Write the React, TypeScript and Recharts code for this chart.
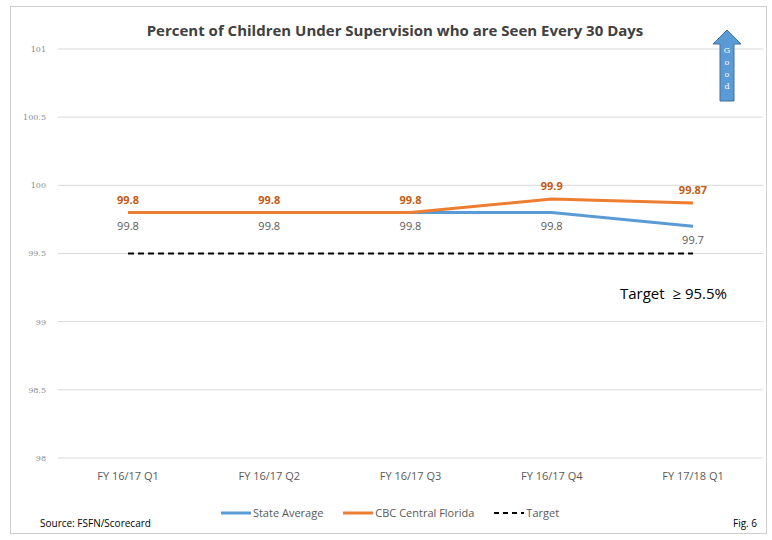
import React from 'react';
import { LineChart, Line, XAxis, YAxis, CartesianGrid, LabelList } from 'recharts';

const categories = ['FY 16/17 Q1', 'FY 16/17 Q2', 'FY 16/17 Q3', 'FY 16/17 Q4', 'FY 17/18 Q1'];
const stateAverage = [99.8, 99.8, 99.8, 99.8, 99.7];
const cbcCentralFlorida = [99.8, 99.8, 99.8, 99.9, 99.87];
const target = [99.5, 99.5, 99.5, 99.5, 99.5];
const yTicks = [98, 98.5, 99, 99.5, 100, 100.5, 101];

const data = categories.map((c, i) => ({
  name: c,
  state: stateAverage[i],
  cbc: cbcCentralFlorida[i],
  target: target[i],
}));

const FONT = "'Open Sans', 'Noto Sans', sans-serif";

const LegendContent = () => (
  <div style={{ display: 'flex', justifyContent: 'center', alignItems: 'center', fontFamily: FONT, fontSize: 11, color: '#595959' }}>
    <svg width={30} height={6} style={{ marginRight: 2 }}><line x1={0} y1={3} x2={30} y2={3} stroke="#5b9bd5" strokeWidth={3} /></svg>
    <span style={{ marginRight: 20 }}>State Average</span>
    <svg width={30} height={6} style={{ marginRight: 2 }}><line x1={0} y1={3} x2={30} y2={3} stroke="#ed7d31" strokeWidth={3} /></svg>
    <span style={{ marginRight: 20 }}>CBC Central Florida</span>
    <svg width={30} height={6} style={{ marginRight: 2 }}><line x1={0} y1={3} x2={30} y2={3} stroke="#000" strokeWidth={2} strokeDasharray="5 4" /></svg>
    <span>Target</span>
  </div>
);

export default function App() {
  return (
    <div style={{ position: 'absolute', left: 0, top: 0, width: 772, height: 540, background: '#fff', fontFamily: FONT }}>
      <div style={{ position: 'absolute', left: 10, top: 6, width: 757, height: 528, border: '1px solid #d0d0d0', boxSizing: 'border-box' }} />
      <div style={{ position: 'absolute', left: 0, width: 772, top: 20, textAlign: 'center', fontSize: 15, fontWeight: 700, color: '#404040', paddingLeft: 18, boxSizing: 'border-box' }}>
        Percent of Children Under Supervision who are Seen Every 30 Days
      </div>
      <LineChart width={772} height={540} data={data} margin={{ top: 49, right: 9, left: 18, bottom: 52 }} style={{ position: 'absolute', left: 0, top: 0 }}>
        <CartesianGrid vertical={false} stroke="#d9d9d9" />
        <XAxis dataKey="name" axisLine={false} tickLine={false} padding={{ left: 70, right: 70 }} tick={{ fill: '#595959', fontSize: 11, fontFamily: FONT }} height={30} tickMargin={8} />
        <YAxis domain={[98, 101]} ticks={yTicks} axisLine={false} tickLine={false} width={40} tick={{ fill: '#8c8c8c', fontSize: 8, fontFamily: 'DejaVu Serif, serif' }} tickMargin={6} />
        <Line dataKey="target" stroke="#000" strokeWidth={2} strokeDasharray="6 4" dot={false} isAnimationActive={false} />
        <Line dataKey="state" stroke="#5b9bd5" strokeWidth={3} dot={false} isAnimationActive={false}>
          <LabelList dataKey="state" position="bottom" offset={10} style={{ fill: '#595959', fontSize: 11, fontFamily: FONT }} />
        </Line>
        <Line dataKey="cbc" stroke="#ed7d31" strokeWidth={3} dot={false} isAnimationActive={false}>
          <LabelList dataKey="cbc" position="top" offset={9} style={{ fill: '#c55a11', fontSize: 11, fontWeight: 700, fontFamily: FONT }} />
        </Line>
      </LineChart>
      <div style={{ position: 'absolute', left: 140, width: 500, top: 505 }}><LegendContent /></div>
      <div style={{ position: 'absolute', left: 620, top: 283, fontSize: 15, color: '#000' }}>Target&nbsp;&nbsp;≥ 95.5%</div>
      <div style={{ position: 'absolute', left: 40, top: 516, fontSize: 10, color: '#000' }}>Source: FSFN/Scorecard</div>
      <div style={{ position: 'absolute', left: 733, top: 516, fontSize: 10, color: '#000' }}>Fig. 6</div>
      <svg style={{ position: 'absolute', left: 710, top: 28 }} width={34} height={76}>
        <polygon points="17,2 31,16 24,16 24,73 10,73 10,16 3,16" fill="#5b9bd5" stroke="#41719c" strokeWidth={1} />
        {['G', 'o', 'o', 'd'].map((ch, i) => (
          <text key={i} x={17} y={25 + i * 12} textAnchor="middle" fontSize={8} fill="#fff" fontFamily="DejaVu Serif, serif">{ch}</text>
        ))}
      </svg>
    </div>
  );
}
